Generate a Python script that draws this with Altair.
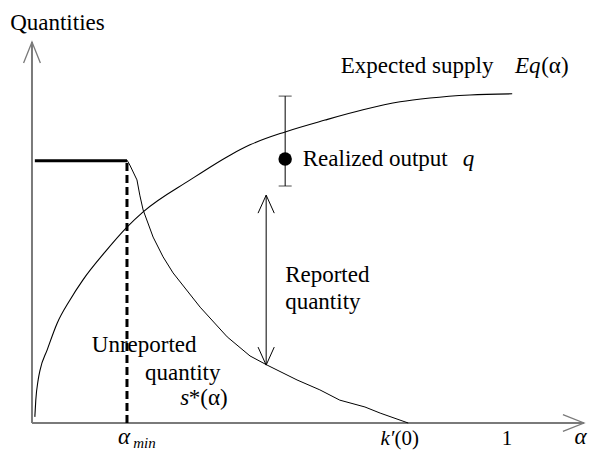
import altair as alt
import pandas as pd

# ---------------- values ----------------
# Expected supply Eq(alpha)
eq_alpha = [0.006, 0.008, 0.013, 0.017, 0.032, 0.053, 0.080, 0.107, 0.154, 0.200,
            0.234, 0.333, 0.417, 0.459, 0.533, 0.617, 0.697, 0.775, 0.838, 0.922, 1.011]
eq_q = [0.16, 0.60, 1.13, 1.39, 1.92, 2.62, 3.23, 3.75, 4.49, 5.14,
        5.54, 6.38, 7.03, 7.30, 7.64, 7.95, 8.22, 8.43, 8.53, 8.61, 8.64]

# Unreported quantity s*(alpha)
s_alpha = [0.200, 0.206, 0.221, 0.227, 0.234, 0.255, 0.276, 0.297, 0.354, 0.411,
           0.459, 0.495, 0.558, 0.606, 0.648, 0.701, 0.733, 0.792]
s_q = [6.90, 6.77, 6.38, 5.98, 5.59, 4.88, 4.36, 3.94, 3.04, 2.26,
       1.76, 1.52, 1.13, 0.87, 0.60, 0.42, 0.26, 0.00]

plateau_alpha = [0.006, 0.200]
plateau_q = 6.88
alpha_min = 0.200

realized_alpha = 0.533
realized_q = 6.93
realized_low = 6.22
realized_high = 8.58

reported_alpha = 0.493
reported_low = 1.52
reported_high = 5.98

x_axis_end = 1.162
y_axis_end = 10.0

label_text = ["Quantities", "Expected supply", "Eq", "(α)", "Realized output", "q",
              "Reported", "quantity", "Unreported", "quantity", "s", "*(α)",
              "α", "min", "k′", "(0)", "1", "α"]
label_x = [-0.046, 0.650, 1.017, 1.072, 0.570, 0.907,
           0.533, 0.533, 0.126, 0.238, 0.312, 0.330,
           0.194, 0.213, 0.763, 0.763, 1.000, 1.155]
label_y = [10.50, 9.36, 9.36, 9.36, 6.93, 6.93,
           3.88, 3.18, 2.05, 1.31, 0.65, 0.65,
           -0.37, -0.52, -0.42, -0.42, -0.42, -0.37]
label_group = ["left", "left", "lefti", "left", "left", "lefti",
               "left", "left", "left", "left", "lefti", "left",
               "bci", "small", "bri", "bl", "bc", "bci"]

# ---------------- layout ----------------
W, H = 584, 443
XDOM = [-0.0505, 1.179]
YDOM = [-0.735, 10.892]
FONT = "Liberation Serif"
GRAY = "#7a7a7a"
FS = 23

xs = alt.Scale(domain=XDOM, nice=False, zero=False)
ys = alt.Scale(domain=YDOM, nice=False, zero=False)


def X(f="x"):
    return alt.X(f"{f}:Q", scale=xs, axis=None)


def Y(f="y"):
    return alt.Y(f"{f}:Q", scale=ys, axis=None)


# axes
axes_df = pd.DataFrame({
    "x": [0.0, 0.0], "x2": [x_axis_end, 0.0],
    "y": [0.0, 0.0], "y2": [0.0, y_axis_end],
})
axes = alt.Chart(axes_df).mark_rule(color=GRAY, strokeWidth=2).encode(
    x=X(), x2="x2:Q", y=Y(), y2="y2:Q")

ARROW = "M-0.8,2L0,0L0.8,2"
heads_df = pd.DataFrame({"x": [0.0, x_axis_end], "y": [y_axis_end, 0.0], "a": [0, 90]})
heads = alt.Chart(heads_df).mark_point(
    shape=ARROW, filled=False, size=441, color=GRAY, strokeWidth=1.3, opacity=1
).encode(x=X(), y=Y(), angle=alt.Angle("a:Q", scale=None))

# curves
eq_df = pd.DataFrame({"x": eq_alpha, "y": eq_q})
eq_line = alt.Chart(eq_df).mark_line(color="black", strokeWidth=1.1, interpolate="monotone").encode(
    x=X(), y=Y(), order="x:Q")

s_df = pd.DataFrame({"x": s_alpha, "y": s_q, "o": list(range(len(s_alpha)))})
s_line = alt.Chart(s_df).mark_line(color="black", strokeWidth=1.0).encode(
    x=X(), y=Y(), order="o:Q")

plat_df = pd.DataFrame({"x": [plateau_alpha[0]], "x2": [plateau_alpha[1]], "y": [plateau_q]})
plat = alt.Chart(plat_df).mark_rule(color="black", strokeWidth=3).encode(
    x=X(), x2="x2:Q", y=Y())

dash_df = pd.DataFrame({"x": [alpha_min], "y": [0.0], "y2": [plateau_q]})
dash = alt.Chart(dash_df).mark_rule(color="black", strokeWidth=3, strokeDash=[8, 4]).encode(
    x=X(), y=Y(), y2="y2:Q")

# realized output with range
err_df = pd.DataFrame({"x": [realized_alpha], "y": [realized_low], "y2": [realized_high]})
err = alt.Chart(err_df).mark_rule(color="black", strokeWidth=1).encode(
    x=X(), y=Y(), y2="y2:Q")
caps_df = pd.DataFrame({"x": [realized_alpha, realized_alpha], "y": [realized_low, realized_high]})
caps = alt.Chart(caps_df).mark_tick(color="black", orient="horizontal", size=13, thickness=1).encode(
    x=X(), y=Y())
dot_df = pd.DataFrame({"x": [realized_alpha], "y": [realized_q]})
dot = alt.Chart(dot_df).mark_point(filled=True, color="black", size=180, opacity=1).encode(
    x=X(), y=Y())

# reported quantity double arrow
rep_df = pd.DataFrame({"x": [reported_alpha], "y": [reported_low], "y2": [reported_high]})
rep = alt.Chart(rep_df).mark_rule(color="black", strokeWidth=1).encode(
    x=X(), y=Y(), y2="y2:Q")
rep_heads_df = pd.DataFrame({"x": [reported_alpha, reported_alpha],
                             "y": [reported_high, reported_low], "a": [0, 180]})
rep_heads = alt.Chart(rep_heads_df).mark_point(
    shape="M-0.9,2L0,0L0.9,2", filled=False, size=324, color="black", strokeWidth=1, opacity=1
).encode(x=X(), y=Y(), angle=alt.Angle("a:Q", scale=None))

# labels
lab_df = pd.DataFrame({"x": label_x, "y": label_y, "t": label_text, "g": label_group})
styles = {
    "left": dict(align="left", fontStyle="normal", fontSize=FS),
    "lefti": dict(align="left", fontStyle="italic", fontSize=FS),
    "bri": dict(align="right", fontStyle="italic", fontSize=21),
    "bl": dict(align="left", fontStyle="normal", fontSize=21),
    "bc": dict(align="center", fontStyle="normal", fontSize=21),
    "bci": dict(align="center", fontStyle="italic", fontSize=23),
    "small": dict(align="left", fontStyle="italic", fontSize=15),
}
texts = []
for g, st in styles.items():
    texts.append(
        alt.Chart(lab_df).transform_filter(alt.datum.g == g).mark_text(
            baseline="middle", font=FONT, color="black", **st
        ).encode(x=X(), y=Y(), text="t:N")
    )

chart = alt.layer(
    axes, heads, eq_line, s_line, plat, dash, err, caps, dot, rep, rep_heads, *texts
).properties(
    width=W, height=H, padding=0, autosize=alt.AutoSizeParams(type="none")
).configure_view(stroke=None)

chart.save("out.html", embed_options={"renderer": "svg", "actions": False})
